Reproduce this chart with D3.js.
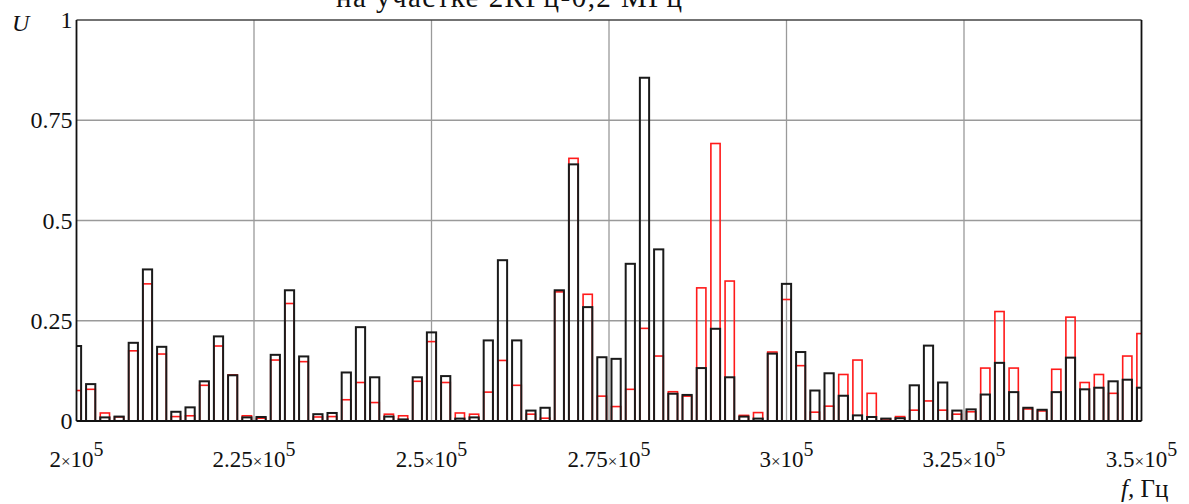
<!DOCTYPE html>
<html>
<head>
<meta charset="utf-8">
<script src="https://cdn.jsdelivr.net/npm/d3@7"></script>
<style>
  body { margin: 0; background: #fff; }
  svg text { font-family: "Liberation Serif", "DejaVu Serif", serif; fill: #111; }
</style>
</head>
<body>
<div id="chart"></div>
<script>
// frequency of each spectral line, kHz (2 kHz step)
const freqK = [200, 202, 204, 206, 208, 210, 212, 214, 216, 218,
  220, 222, 224, 226, 228, 230, 232, 234, 236, 238,
  240, 242, 244, 246, 248, 250, 252, 254, 256, 258,
  260, 262, 264, 266, 268, 270, 272, 274, 276, 278,
  280, 282, 284, 286, 288, 290, 292, 294, 296, 298,
  300, 302, 304, 306, 308, 310, 312, 314, 316, 318,
  320, 322, 324, 326, 328, 330, 332, 334, 336, 338,
  340, 342, 344, 346, 348, 350];

// black spectrum (amplitude U)
const blackU = [0.187, 0.092, 0.009, 0.011, 0.195, 0.378, 0.185, 0.023, 0.034, 0.099,
  0.211, 0.114, 0.009, 0.010, 0.165, 0.326, 0.161, 0.017, 0.020, 0.121,
  0.234, 0.109, 0.011, 0.004, 0.109, 0.221, 0.112, 0.006, 0.009, 0.201,
  0.401, 0.201, 0.026, 0.033, 0.326, 0.640, 0.284, 0.159, 0.155, 0.392,
  0.856, 0.428, 0.068, 0.065, 0.132, 0.230, 0.109, 0.011, 0.006, 0.168,
  0.342, 0.172, 0.076, 0.119, 0.063, 0.014, 0.010, 0.006, 0.007, 0.089,
  0.188, 0.096, 0.026, 0.029, 0.066, 0.145, 0.072, 0.033, 0.028, 0.072,
  0.158, 0.079, 0.083, 0.099, 0.103, 0.083];

// red spectrum (amplitude U)
const redU = [0.076, 0.079, 0.020, 0.010, 0.175, 0.342, 0.167, 0.011, 0.013, 0.089,
  0.187, 0.115, 0.013, 0.007, 0.152, 0.293, 0.148, 0.010, 0.011, 0.053,
  0.096, 0.046, 0.017, 0.013, 0.099, 0.198, 0.096, 0.020, 0.017, 0.072,
  0.151, 0.089, 0.017, 0.007, 0.322, 0.655, 0.316, 0.062, 0.036, 0.079,
  0.231, 0.162, 0.073, 0.062, 0.332, 0.692, 0.349, 0.014, 0.021, 0.172,
  0.303, 0.138, 0.022, 0.037, 0.116, 0.152, 0.069, 0.005, 0.011, 0.027,
  0.050, 0.027, 0.017, 0.023, 0.132, 0.273, 0.132, 0.030, 0.025, 0.129,
  0.259, 0.096, 0.116, 0.069, 0.162, 0.218];

// axis ticks
const xTicks = [200, 225, 250, 275, 300, 325, 350];
const xTickMant = ["2", "2.25", "2.5", "2.75", "3", "3.25", "3.5"];
const yTicks = [0, 0.25, 0.5, 0.75, 1];
const yTickLabels = ["0", "0.25", "0.5", "0.75", "1"];

const titleText = "на участке 2КГц-0,2 МГц";

// layout
const W = 1189, H = 504;
const plotL = 76.5, plotR = 1141.5, plotT = 20, plotB = 421;

const svg = d3.select("#chart").append("svg")
  .attr("width", W)
  .attr("height", H);

const x = d3.scaleLinear().domain([200, 350]).range([plotL, plotR]);
const y = d3.scaleLinear().domain([0, 1]).range([plotB, plotT]);
const halfW = 0.65; // half bar width in kHz

svg.append("clipPath").attr("id", "plotclip")
  .append("rect")
  .attr("x", plotL).attr("y", plotT - 2)
  .attr("width", plotR - plotL).attr("height", plotB - plotT + 2);

// grid lines
svg.append("g")
  .selectAll("line")
  .data(yTicks.slice(1, -1))
  .enter().append("line")
  .attr("x1", plotL).attr("x2", plotR)
  .attr("y1", d => y(d)).attr("y2", d => y(d))
  .attr("stroke", "#9a9a9a")
  .attr("stroke-width", 1.3);

svg.append("g")
  .selectAll("line")
  .data(xTicks.slice(1, -1))
  .enter().append("line")
  .attr("x1", d => x(d)).attr("x2", d => x(d))
  .attr("y1", plotT).attr("y2", plotB)
  .attr("stroke", "#9a9a9a")
  .attr("stroke-width", 1.3);

// bars: red first, black on top
let barsG = svg.append("g").attr("clip-path", "url(#plotclip)");

function drawBars(values, color, sw) {
  barsG.append("g")
    .selectAll("rect")
    .data(values)
    .enter().append("rect")
    .attr("x", (d, i) => x(freqK[i] - halfW))
    .attr("width", (d, i) => x(freqK[i] + halfW) - x(freqK[i] - halfW))
    .attr("y", d => y(d))
    .attr("height", d => y(0) - y(d))
    .attr("fill", "none")
    .attr("stroke", color)
    .attr("stroke-width", sw);
}
drawBars(redU, "#ff1a1a", 1.6);
drawBars(blackU, "#1a1a1a", 2);

// frame
svg.append("line")
  .attr("x1", plotL).attr("x2", plotR).attr("y1", plotT).attr("y2", plotT)
  .attr("stroke", "#444").attr("stroke-width", 1.5);
svg.append("line")
  .attr("x1", plotL).attr("x2", plotR).attr("y1", plotB).attr("y2", plotB)
  .attr("stroke", "#111").attr("stroke-width", 2);
svg.append("line")
  .attr("x1", plotL).attr("x2", plotL).attr("y1", plotT).attr("y2", plotB)
  .attr("stroke", "#111").attr("stroke-width", 1.8);
svg.append("line")
  .attr("x1", plotR).attr("x2", plotR).attr("y1", plotT).attr("y2", plotB)
  .attr("stroke", "#111").attr("stroke-width", 1.8);

// y tick labels
svg.append("g")
  .selectAll("text")
  .data(yTicks)
  .enter().append("text")
  .attr("x", plotL - 4)
  .attr("y", d => y(d) + 8)
  .attr("text-anchor", "end")
  .style("font-size", "24px")
  .text((d, i) => yTickLabels[i]);

// x tick labels: mantissa x 10^5
let xl = svg.append("g")
  .selectAll("text")
  .data(xTicks)
  .enter().append("text")
  .attr("x", d => x(d))
  .attr("y", 467)
  .attr("text-anchor", "middle")
  .style("font-size", "23px");
xl.append("tspan").text((d, i) => xTickMant[i]);
xl.append("tspan").style("font-size", "17px").text("×");
xl.append("tspan").text("10");
xl.append("tspan").attr("dy", -11).style("font-size", "20px").text("5");

// axis names
svg.append("text")
  .attr("x", 12).attr("y", 31)
  .style("font-size", "24px")
  .style("font-style", "italic")
  .text("U");

let fl = svg.append("text")
  .attr("x", 1121).attr("y", 497)
  .style("font-size", "25px");
fl.append("tspan").style("font-style", "italic").text("f,");
fl.append("tspan").text(" Гц");

// title, cut at the top edge as in the source
svg.append("text")
  .attr("x", 336).attr("y", 7)
  .attr("textLength", 346)
  .style("font-size", "29px")
  .text(titleText);
</script>
</body>
</html>
